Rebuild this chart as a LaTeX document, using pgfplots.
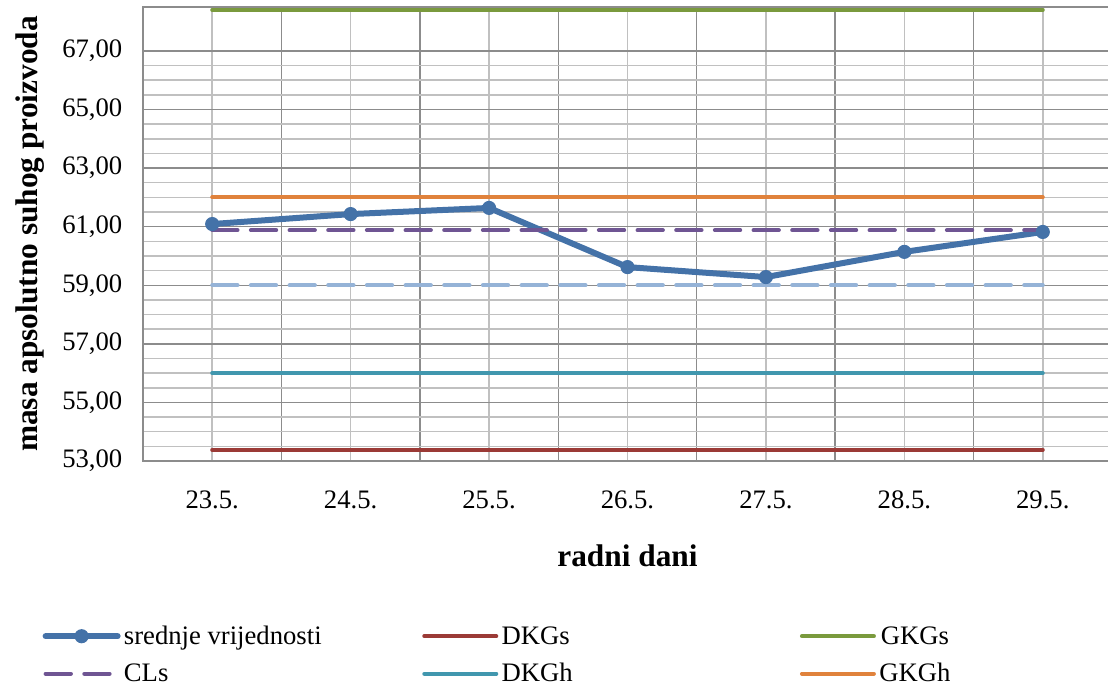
\documentclass[border=0pt]{standalone}
\usepackage{fontspec}
\setmainfont{Liberation Serif}
\usepackage{pgfplots}
\pgfplotsset{compat=1.18}
\definecolor{cBlue}{HTML}{4472A8}
\definecolor{cRed}{HTML}{9B3A36}
\definecolor{cGreen}{HTML}{7A9A3D}
\definecolor{cOrange}{HTML}{E0823C}
\definecolor{cTeal}{HTML}{4197AE}
\definecolor{cPurple}{HTML}{6F5593}
\definecolor{cLight}{HTML}{95B3D7}
\definecolor{gMajor}{HTML}{8C8C8C}
\definecolor{gMinor}{HTML}{C0C0C0}
\begin{document}
\begin{tikzpicture}[font=\fontsize{20}{24}\selectfont]
\begin{axis}[
  name=ax,
  scale only axis,
  width=726.75pt, height=340.5pt,
  xmin=-0.5, xmax=6.5, ymin=53, ymax=68.5,
  xtick={0,1,2,3,4,5,6},
  xticklabels={23.5.,24.5.,25.5.,26.5.,27.5.,28.5.,29.5.},
  minor xtick={0.5,1.5,2.5,3.5,4.5,5.5},
  ytick={53,55,57,59,61,63,65,67},
  minor y tick num=3,
  xmajorgrids, xminorgrids, ymajorgrids, yminorgrids,
  major x grid style={gMinor, line width=1.1pt},
  minor x grid style={gMajor, line width=1.1pt},
  major y grid style={gMajor, line width=1.1pt},
  minor y grid style={gMinor, line width=1.1pt},
  major tick length=0pt, minor tick length=0pt,
  axis line style={gMajor, line width=1.1pt},
  y tick label style={xshift=-12pt},
  /pgf/number format/fixed, /pgf/number format/fixed zerofill,
  /pgf/number format/precision=2, /pgf/number format/use comma,
  /pgf/number format/assume math mode=true,
  x tick label style={yshift=-18.5pt},
  xlabel={\fontsize{23.5}{26}\selectfont\bfseries radni dani},
  ylabel={\fontsize{23.5}{26}\selectfont\bfseries masa apsolutno suhog proizvoda},
  xlabel style={at={(axis description cs:0.5,-0.209)}, anchor=center},
  ylabel style={at={(axis description cs:-0.1166,0.5)}, anchor=center},
  legend columns=3,
  legend style={at={(axis description cs:-0.108,-0.351)}, anchor=north west, draw=none, fill=none,
    /tikz/every odd column/.append style={column sep=0.5pt},
    row sep=8.75pt},
  legend image code/.code={\draw[mark repeat=2,mark phase=2,#1] plot coordinates {(0pt,0pt) (27pt,0pt) (54pt,0pt)};},
  clip=false,
  every axis plot/.append style={line cap=round},
]
\coordinate (sw) at (rel axis cs:0,0);
\addplot[cLight, line width=3pt, dash pattern=on 19pt off 10pt, forget plot] coordinates {(0,59.0) (6,59.0)};
\addplot[cBlue, line width=4.5pt, mark=*, mark size=4.8pt, mark options={solid, line width=1pt}] coordinates {
 (0,61.09) (1,61.43) (2,61.64) (3,59.62) (4,59.28) (5,60.14) (6,60.82)};
\addlegendentry{\makebox[221.75pt][l]{srednje vrijednosti}}
\addplot[cRed, line width=3pt] coordinates {(0,53.38) (6,53.38)};
\addlegendentry{\makebox[221.75pt][l]{DKGs}}
\addplot[cGreen, line width=3pt] coordinates {(0,68.4) (6,68.4)};
\addlegendentry{GKGs}
\addplot[cPurple, line width=3pt, dash pattern=on 19pt off 10pt] coordinates {(0,60.88) (6,60.88)};
\addlegendentry{\makebox[221.75pt][l]{CLs}}
\addplot[cTeal, line width=3pt] coordinates {(0,56.0) (6,56.0)};
\addlegendentry{\makebox[221.75pt][l]{DKGh}}
\addplot[cOrange, line width=3pt] coordinates {(0,62.0) (6,62.0)};
\addlegendentry{GKGh}
\end{axis}
\pgfresetboundingbox
\path[use as bounding box] ([shift={(-107.25pt,-169.5pt)}]sw) rectangle ([shift={(723.75pt,345.75pt)}]sw);
\end{tikzpicture}
\end{document}
